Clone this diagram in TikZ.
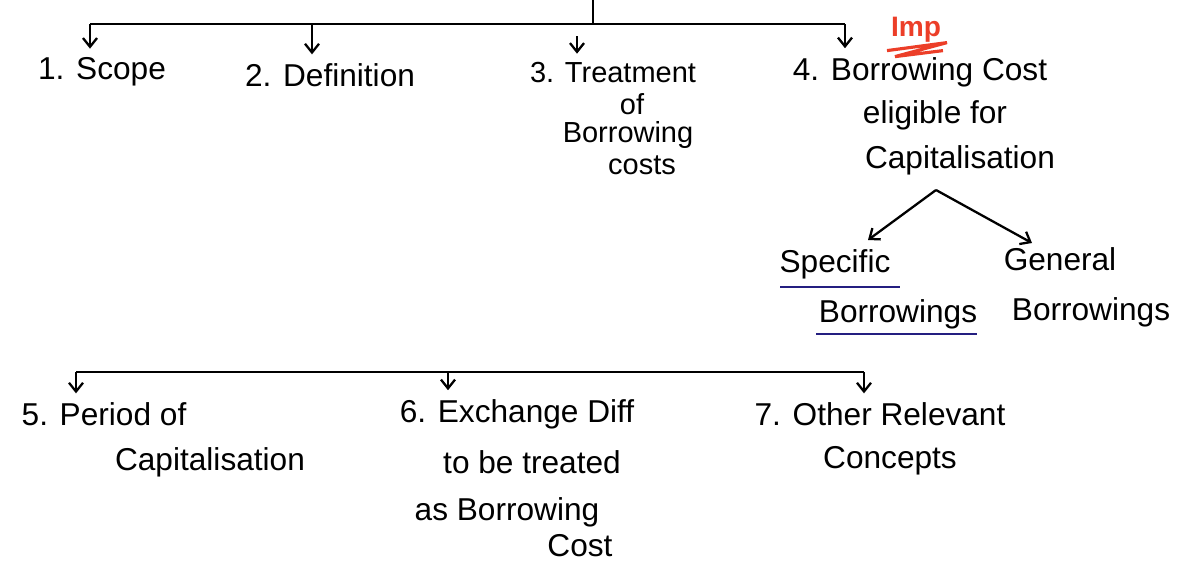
\documentclass[tikz,border=0pt]{standalone}
\usepackage{fontspec}
\setmainfont{Liberation Sans}
\usepackage{xcolor}
\usetikzlibrary{arrows.meta}
\definecolor{impred}{RGB}{236,62,40}
\definecolor{inkblue}{RGB}{36,30,128}

\begin{document}
\begin{tikzpicture}[x=0.02cm, y=-0.02cm, line width=1.3pt,
    txt/.style={font=\fontsize{18}{20}\selectfont, inner sep=0.5pt},
    small/.style={font=\fontsize{16.5}{18}\selectfont},
    down/.style={-{Straight Barb[length=5pt,width=8pt]}},
    drop/.style={down, shorten >=4pt}]
  \useasboundingbox (0,0) rectangle (1177,565);

  % first row
  \node[txt] (scope) at (102,72) {1. Scope};
  \node[txt] (defn) at (330,75) {2. Definition};
  \node[txt, small] (treatA) at (613,73) {3. Treatment};
  \node[txt, small] (treatB) at (632,104) {of};
  \node[txt, small] (treatC) at (628,135) {Borrowing};
  \node[txt, small] (treatD) at (642,165) {costs};
  \node[txt] (costA) at (920,72) {4. Borrowing Cost};
  \node[txt] (costB) at (935,115) {eligible for};
  \node[txt] (costC) at (960,160) {Capitalisation};
  \node[txt, text=impred, font=\fontsize{16}{18}\selectfont\bfseries] (imp) at (916,30) {Imp};

  \coordinate (stem) at (593,0);
  \coordinate (stemfoot) at (593,24);
  \coordinate (b1) at (90,24);
  \coordinate (b2) at (312,24);
  \coordinate (b3) at (577,36);
  \coordinate (b4) at (845,24);
  \draw (stem) -- (stemfoot);
  \draw (b1) -- (b4);
  \draw[drop] (b1) -- (b1 |- scope.north);
  \draw[drop] (b2) -- (b2 |- defn.north);
  \draw[drop] (b3) -- (b3 |- treatA.north);
  \draw[drop] (b4) -- (b4 |- costA.north);
  \draw[impred, line width=1.8pt] (imp.south west) ++(-2,6) -- ++(60,-8) -- ++(-52,14) -- ++(48,-6);

  % split of 4
  \node[txt] (specA) at (835,264) {Specific};
  \node[txt] (specB) at (898,314) {Borrowings};
  \node[txt] (genA) at (1060,259) {General};
  \node[txt] (genB) at (1091,312) {Borrowings};
  \coordinate (split) at (936,190);
  \coordinate (specTip) at (868,240);
  \coordinate (genTip) at (1032,243);
  \draw[down] (split) -- (specTip);
  \draw[down] (split) -- (genTip);
  \draw[inkblue] (780,287) -- (900,287);
  \draw[inkblue] (816,334) -- (977,334);

  % second row
  \node[txt] (perA) at (104,414) {5. Period of};
  \node[txt] (perB) at (210,462) {Capitalisation};
  \node[txt] (exA) at (517,414) {6. Exchange Diff};
  \node[txt] (exB) at (532,462) {to be treated};
  \node[txt] (exC) at (507,512) {as Borrowing};
  \node[txt] (exD) at (580,546) {Cost};
  \node[txt] (othA) at (880,414) {7. Other Relevant};
  \node[txt] (othB) at (890,461) {Concepts};

  \coordinate (c5) at (76,372);
  \coordinate (c6) at (448,372);
  \coordinate (c7) at (864,372);
  \draw (c5) -- (c7);
  \draw[drop] (c5) -- (c5 |- perA.north);
  \draw[drop] (c6) -- (c6 |- exA.north);
  \draw[drop] (c7) -- (c7 |- othA.north);
\end{tikzpicture}
\end{document}
